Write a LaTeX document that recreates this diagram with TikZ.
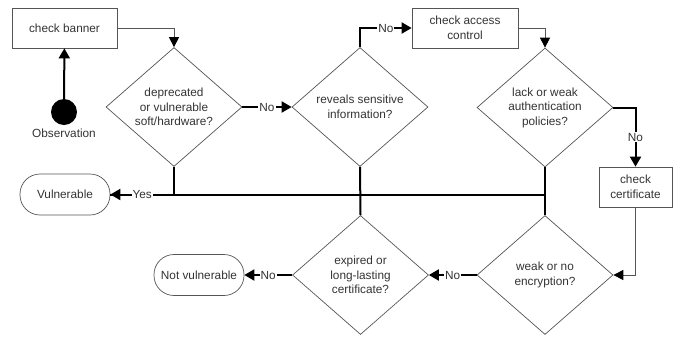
\documentclass[tikz,border=0pt]{standalone}
\usepackage{fontspec}
\setmainfont{Liberation Sans}
\usetikzlibrary{shapes.geometric,arrows.meta}
\definecolor{edgegray}{HTML}{555555}
\definecolor{textgray}{HTML}{333333}
\begin{document}
\begin{tikzpicture}[x=1pt, y=-1pt,
  every node/.style={font=\fontsize{11.8}{14.5}\selectfont, text=textgray},
  box/.style={draw=edgegray, line width=.7pt, align=center, inner sep=0},
  decision/.style={diamond, draw=edgegray, line width=.7pt, align=center, inner sep=0,
    minimum width=136pt, minimum height=119pt, aspect=1.14},
  terminal/.style={draw=edgegray, line width=.7pt, rounded corners=20pt, minimum width=90pt,
    minimum height=41pt, inner sep=0},
  flow/.style={line width=2pt, -{Triangle[length=10pt,width=11pt]}},
  bus/.style={line width=2pt},
  thin/.style={line width=.8pt, draw=edgegray, -{Triangle[length=10pt,width=10pt]}, arrows={[color=black]}},
  lbl/.style={fill=white, inner sep=1pt, text=textgray}]
\useasboundingbox (0,0) rectangle (677,341);

% boxes and start
\node[box, minimum width=105pt, minimum height=40pt] (banner) at (64.5,28) {check banner};
\node[circle, fill=black, minimum size=26pt, inner sep=0] (obs) at (64,112) {};
\node[below=0pt] (obslbl) at (obs.south) {Observation};
\node[box, minimum width=106pt, minimum height=40pt] (access) at (465,28) {check access\\control};
\node[box, minimum width=73pt, minimum height=40pt] (cert) at (635.5,187) {check\\certificate};

% decisions
\node[decision] (d1) at (174,107) {deprecated\\or vulnerable\\soft/hardware?};
\node[decision] (d2) at (360,107) {reveals sensitive\\information?};
\node[decision] (d3) at (545,107.5) {lack or weak\\authentication\\policies?};
\node[decision] (d4) at (545,275) {weak or no\\encryption?};
\node[decision] (d5) at (360.5,275) {expired or\\long-lasting\\certificate?};

% outcomes
\node[terminal] (vuln) at (65,194.5) {Vulnerable};
\node[terminal] (notv) at (199,275) {Not vulnerable};

% connectors
\draw[flow] (obs) -- (banner);
\draw[thin] (banner.east) -| (d1.north);
\draw[flow] (d1.east) -- node[lbl]{No} (d2.west);
\draw[flow] (d2.north) |- node[lbl,pos=.75]{No} (access.west);
\draw[thin] (access.east) -| (d3.north);
\draw[flow] (d3.east) -| node[lbl,pos=.75]{No} (cert.north);
\draw[thin] (cert.south) |- (d4.east);
\draw[flow] (d4.west) -- node[lbl]{No} (d5.east);
\draw[flow] (d5.west) -- node[lbl]{No} (notv.east);

\draw[bus] (d3.south) -- (d4.north);
\draw[bus] (d2.south) -- (d5.north);
\draw[bus] (d4.north) |- (vuln.east);
\draw[flow] (d1.south) |- node[lbl,pos=.75]{Yes} (vuln.east);

\end{tikzpicture}
\end{document}
